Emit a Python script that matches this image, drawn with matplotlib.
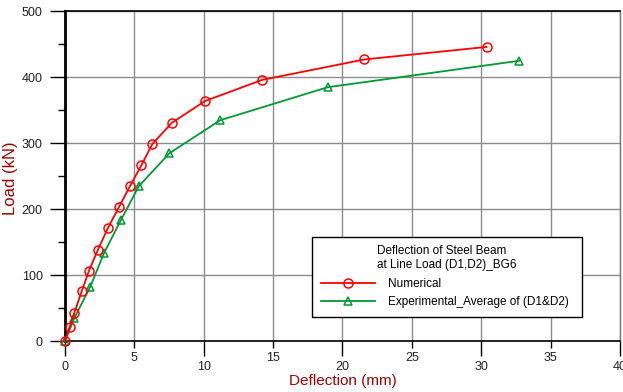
import matplotlib.pyplot as plt
from matplotlib.ticker import MultipleLocator, ScalarFormatter

# Numerical (FE) load-deflection
num_defl = [0, 0.34, 0.67, 1.21, 1.73, 2.38, 3.08, 3.88, 4.71, 5.51, 6.30, 7.70, 10.09, 14.2, 21.57, 30.38]
num_load = [0, 22, 43, 76, 107, 139, 171, 203, 236, 267, 299, 331, 364, 396, 427, 446]

# Experimental, average of D1 & D2
exp_defl = [0, 0.67, 1.83, 2.82, 4.04, 5.32, 7.53, 11.19, 18.94, 32.73]
exp_load = [0, 35, 83, 134, 184, 235, 285, 335, 385, 425]

plt.rcParams['font.family'] = ['Liberation Sans', 'DejaVu Sans']

fig = plt.figure(figsize=(6.23, 3.92), dpi=100)
ax = fig.add_axes([0.1043, 0.1293, 0.8909, 0.8419])

ax.plot(num_defl, num_load, color='#ff0000', lw=1.3, marker='o', ms=6.5,
        mfc='none', mec='#ff0000', mew=1.1, label='Numerical', zorder=4, clip_on=False)
ax.plot(exp_defl, exp_load, color='#009933', lw=1.3, marker='^', ms=6,
        mfc='none', mec='#009933', mew=1.1, label='Experimental_Average of (D1&D2)',
        zorder=3, clip_on=False)

ax.set_xlim(0, 40)
ax.set_ylim(0, 500)
# x: long ticks every 10, short labelled ticks in between (staggered labels)
ax.xaxis.set_major_locator(MultipleLocator(10))
ax.xaxis.set_minor_locator(MultipleLocator(5))
ax.xaxis.set_minor_formatter(ScalarFormatter())
ax.yaxis.set_major_locator(MultipleLocator(100))
ax.yaxis.set_minor_locator(MultipleLocator(50))
ax.grid(True, which='both', axis='x', color='#8c8c8c', lw=1.0, zorder=0)
ax.grid(True, which='major', axis='y', color='#8c8c8c', lw=1.0, zorder=0)

for side in ['top', 'bottom']:
    ax.spines[side].set_color('black')
    ax.spines[side].set_linewidth(1.2)
ax.spines['left'].set_linewidth(2.0)
ax.spines['right'].set_color('#777777')
ax.spines['right'].set_linewidth(1.0)

ax.tick_params(axis='y', which='major', direction='out', length=11, width=1.0,
               labelsize=9, labelcolor='#222222', pad=5)
ax.tick_params(axis='y', which='minor', direction='out', length=5, width=1.0)
ax.tick_params(axis='x', which='major', direction='out', length=11, width=1.0,
               labelsize=9, labelcolor='#222222', pad=3)
ax.tick_params(axis='x', which='minor', direction='out', length=5, width=1.0,
               labelsize=9, labelcolor='#222222', pad=3)

ax.set_xlabel('Deflection (mm)', fontsize=11, color='#a00000', labelpad=1)
fig.text(11 / 623, 1 - 178 / 392, 'Load (kN)', rotation=90, fontsize=12,
         color='#a00000', ha='center', va='center')

leg = ax.legend(title='Deflection of Steel Beam\nat Line Load (D1,D2)_BG6',
                loc='lower left', bbox_to_anchor=(0.445, 0.0736, 0.4865, 0.25),
                mode='expand', borderaxespad=0, fontsize=8.5, title_fontsize=8.5,
                frameon=True, fancybox=False, edgecolor='black', framealpha=1,
                handlelength=4.6, handletextpad=1.1, borderpad=0.75, labelspacing=0.55)
leg.get_frame().set_linewidth(1.0)

fig.savefig('out.png', dpi=100)
